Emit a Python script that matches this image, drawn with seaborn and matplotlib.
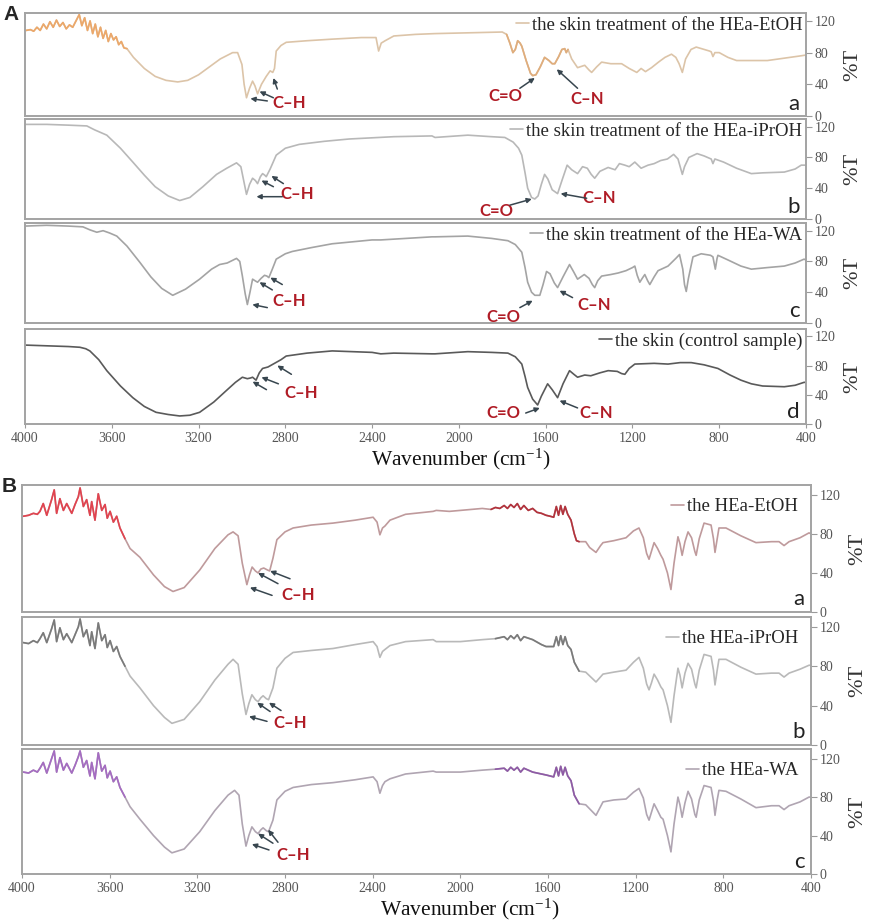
import matplotlib
matplotlib.use("Agg")
import pandas as pd
import matplotlib.pyplot as plt
import seaborn as sns
from matplotlib.lines import Line2D

# spectra: (wavenumber cm-1, %T)
A_ETOH = [(3995, 108), (3975, 109), (3960, 107), (3945, 112), (3930, 108), (3915, 116), (3900, 110),
          (3885, 119), (3870, 112), (3855, 121), (3840, 113), (3825, 118), (3810, 110), (3795, 115),
          (3780, 112), (3765, 120), (3750, 128), (3738, 114), (3725, 124), (3712, 108), (3700, 120),
          (3688, 104), (3676, 116), (3664, 100), (3652, 112), (3640, 98), (3628, 108), (3616, 94),
          (3604, 104), (3592, 96), (3580, 100), (3568, 90), (3556, 94), (3544, 86), (3530, 85),
          (3500, 74), (3450, 60), (3400, 50), (3350, 45), (3296, 43), (3250, 45), (3200, 52),
          (3150, 62), (3100, 72), (3043, 80), (3020, 80), (3000, 65), (2990, 40), (2979, 23),
          (2965, 35), (2951, 44), (2940, 38), (2928, 28), (2910, 40), (2888, 50), (2870, 57),
          (2858, 55), (2850, 60), (2842, 82), (2820, 89), (2796, 93), (2700, 95), (2584, 97),
          (2450, 99), (2382, 99), (2370, 82), (2358, 92), (2340, 95), (2300, 101), (2200, 103),
          (2110, 104), (1950, 105), (1800, 106), (1780, 103), (1765, 92), (1751, 80), (1740, 84),
          (1729, 95), (1718, 92), (1710, 88), (1690, 70), (1670, 54), (1660, 51), (1645, 52),
          (1625, 62), (1605, 74), (1585, 70), (1570, 66), (1558, 66), (1540, 75), (1525, 84),
          (1512, 85), (1505, 80), (1497, 84), (1480, 72), (1453, 61), (1420, 64), (1400, 58),
          (1388, 55), (1365, 62), (1342, 68), (1300, 66), (1250, 66), (1215, 60), (1180, 55),
          (1160, 60), (1140, 56), (1112, 61), (1080, 68), (1050, 74), (1020, 78), (1000, 74),
          (985, 66), (970, 55), (955, 72), (930, 84), (906, 87), (870, 84), (845, 82), (837, 81),
          (829, 75), (820, 80), (800, 80), (760, 74), (720, 70), (685, 70), (620, 70), (578, 70),
          (500, 73), (422, 76), (400, 77)]

A_IPROH = [(4000, 123), (3900, 123), (3800, 122), (3715, 121), (3680, 116), (3623, 109), (3560, 92),
           (3503, 74), (3450, 57), (3400, 42), (3340, 30), (3287, 24), (3240, 28), (3180, 42),
           (3117, 58), (3070, 66), (3025, 73), (3005, 68), (2992, 50), (2979, 32), (2965, 45),
           (2951, 53), (2938, 50), (2928, 46), (2915, 55), (2905, 59), (2895, 57), (2888, 55),
           (2870, 65), (2842, 83), (2800, 92), (2736, 97), (2620, 101), (2506, 104), (2300, 107),
           (2124, 108), (2110, 106), (1959, 109), (1850, 107), (1788, 106), (1750, 100), (1725, 92),
           (1710, 83), (1695, 60), (1683, 40), (1665, 28), (1650, 26), (1635, 30), (1620, 45),
           (1605, 58), (1590, 52), (1570, 38), (1545, 33), (1525, 50), (1501, 70), (1480, 64),
           (1453, 59), (1430, 68), (1408, 66), (1390, 58), (1374, 53), (1350, 62), (1312, 67),
           (1280, 64), (1260, 72), (1235, 70), (1215, 68), (1189, 74), (1160, 66), (1128, 70),
           (1100, 72), (1070, 76), (1039, 78), (1010, 84), (990, 78), (978, 66), (970, 58),
           (960, 68), (940, 80), (902, 85), (870, 82), (837, 78), (829, 72), (820, 78), (780, 74),
           (720, 66), (652, 59), (600, 60), (500, 61), (450, 65), (422, 70), (400, 70)]

A_WA = [(4000, 126), (3900, 127), (3800, 126), (3733, 125), (3700, 121), (3669, 118), (3640, 120),
        (3610, 117), (3577, 113), (3530, 100), (3471, 79), (3420, 60), (3370, 45), (3319, 36),
        (3260, 44), (3195, 57), (3140, 70), (3103, 76), (3068, 78), (3025, 84), (3010, 80),
        (2998, 61), (2985, 38), (2975, 24), (2963, 40), (2951, 57), (2940, 55), (2928, 53),
        (2912, 58), (2896, 62), (2885, 61), (2876, 59), (2860, 70), (2842, 83), (2800, 90),
        (2768, 93), (2680, 98), (2584, 103), (2400, 108), (2360, 108), (2124, 112), (2110, 112),
        (1959, 113), (1850, 110), (1774, 107), (1740, 102), (1710, 92), (1695, 72), (1683, 53),
        (1665, 40), (1650, 36), (1627, 36), (1612, 50), (1596, 67), (1580, 64), (1560, 52),
        (1545, 46), (1520, 60), (1490, 76), (1470, 66), (1453, 57), (1422, 63), (1400, 58),
        (1385, 50), (1374, 46), (1360, 55), (1342, 61), (1300, 63), (1266, 65), (1230, 68),
        (1200, 72), (1189, 74), (1178, 62), (1166, 53), (1155, 58), (1143, 63), (1130, 55),
        (1120, 50), (1100, 60), (1082, 68), (1036, 74), (1000, 84), (983, 89), (968, 70),
        (960, 50), (952, 41), (942, 58), (921, 86), (883, 90), (840, 88), (829, 86), (818, 70),
        (810, 84), (806, 88), (760, 82), (700, 74), (652, 70), (580, 72), (500, 74), (450, 78),
        (409, 83), (400, 82)]

A_SKIN = [(4000, 108), (3900, 107), (3800, 106), (3747, 105), (3720, 103), (3701, 100), (3660, 88),
          (3623, 73), (3560, 52), (3503, 36), (3450, 24), (3396, 16), (3340, 13), (3287, 11),
          (3240, 12), (3195, 16), (3130, 30), (3071, 46), (3030, 57), (2998, 64), (2975, 62),
          (2960, 63), (2951, 64), (2935, 60), (2920, 70), (2905, 76), (2880, 78), (2850, 83),
          (2820, 88), (2796, 93), (2700, 97), (2584, 100), (2400, 98), (2360, 96), (2300, 97),
          (2124, 96), (2110, 96), (1959, 99), (1850, 98), (1774, 97), (1740, 92), (1710, 82),
          (1695, 65), (1683, 50), (1660, 34), (1637, 26), (1620, 38), (1591, 55), (1570, 47),
          (1545, 36), (1520, 55), (1490, 73), (1470, 68), (1453, 64), (1420, 67), (1392, 66),
          (1350, 70), (1312, 73), (1270, 72), (1250, 69), (1235, 68), (1215, 76), (1189, 82),
          (1100, 83), (1036, 82), (980, 84), (929, 84), (870, 81), (806, 76), (750, 67),
          (700, 60), (652, 55), (600, 52), (500, 51), (450, 53), (409, 57), (400, 57)]

B_ETOH = [(3994, 98), (3970, 99), (3948, 101), (3930, 100), (3918, 103), (3903, 111), (3887, 99),
          (3865, 115), (3853, 125), (3842, 101), (3827, 116), (3811, 104), (3796, 111), (3773, 101),
          (3758, 110), (3743, 118), (3735, 127), (3720, 108), (3705, 115), (3690, 99), (3682, 113),
          (3667, 94), (3652, 121), (3636, 104), (3621, 110), (3611, 96), (3598, 103), (3583, 92),
          (3568, 98), (3553, 86), (3530, 75), (3507, 65), (3462, 56), (3400, 38), (3350, 26),
          (3311, 21), (3260, 25), (3189, 43), (3120, 65), (3060, 79), (3037, 82), (3014, 78),
          (2995, 50), (2974, 28), (2962, 38), (2950, 46), (2935, 42), (2923, 40), (2910, 44),
          (2897, 45), (2880, 43), (2870, 42), (2855, 55), (2837, 74), (2800, 82), (2763, 86),
          (2680, 89), (2581, 91), (2480, 94), (2398, 97), (2380, 92), (2367, 79), (2355, 86),
          (2344, 88), (2321, 94), (2250, 100), (2124, 103), (2110, 104), (2050, 103), (2000, 104),
          (1950, 105), (1900, 106), (1860, 105), (1840, 107), (1820, 106), (1800, 109), (1785, 106),
          (1770, 110), (1755, 107), (1740, 111), (1725, 105), (1710, 109), (1690, 104), (1670, 106),
          (1650, 102), (1630, 101), (1609, 99), (1590, 98), (1574, 97), (1562, 108), (1552, 99),
          (1542, 109), (1532, 100), (1522, 108), (1510, 100), (1495, 94), (1480, 80), (1470, 73),
          (1458, 72), (1428, 72), (1410, 66), (1381, 61), (1360, 68), (1349, 71), (1300, 73),
          (1244, 76), (1210, 83), (1185, 86), (1165, 76), (1150, 60), (1139, 54), (1128, 62),
          (1116, 71), (1100, 65), (1085, 58), (1075, 54), (1055, 40), (1039, 23), (1025, 50),
          (1007, 77), (998, 70), (988, 58), (975, 72), (961, 82), (945, 76), (930, 62), (924, 58),
          (910, 75), (888, 91), (856, 89), (845, 75), (838, 61), (828, 75), (820, 86), (788, 86),
          (720, 78), (651, 71), (580, 72), (546, 72), (523, 68), (500, 72), (450, 76), (409, 81),
          (400, 80)]

B_IPROH = [(3994, 104), (3970, 103), (3948, 106), (3930, 104), (3918, 108), (3903, 114), (3887, 104),
           (3865, 118), (3853, 127), (3842, 105), (3827, 119), (3811, 107), (3796, 113), (3773, 104),
           (3758, 112), (3743, 120), (3735, 128), (3720, 110), (3705, 117), (3690, 101), (3682, 115),
           (3667, 98), (3652, 124), (3636, 106), (3621, 112), (3611, 99), (3598, 106), (3583, 95),
           (3568, 100), (3553, 90), (3530, 80), (3507, 70), (3462, 58), (3400, 40), (3350, 28),
           (3316, 22), (3260, 26), (3189, 44), (3120, 66), (3060, 82), (3037, 87), (3014, 82),
           (2995, 52), (2978, 31), (2965, 42), (2951, 51), (2935, 46), (2923, 44), (2910, 48),
           (2900, 50), (2885, 47), (2875, 46), (2855, 58), (2837, 78), (2800, 88), (2763, 94),
           (2680, 96), (2581, 98), (2480, 102), (2398, 105), (2380, 100), (2367, 89), (2355, 95),
           (2344, 97), (2321, 101), (2250, 105), (2124, 107), (2110, 105), (2000, 105), (1900, 107),
           (1840, 108), (1800, 110), (1785, 107), (1770, 111), (1755, 108), (1740, 112), (1725, 106),
           (1710, 110), (1670, 107), (1630, 102), (1609, 100), (1574, 100), (1562, 110), (1552, 101),
           (1542, 111), (1532, 102), (1522, 110), (1510, 101), (1495, 97), (1480, 84), (1458, 75),
           (1428, 74), (1381, 64), (1349, 72), (1300, 74), (1244, 76), (1210, 84), (1185, 89),
           (1165, 78), (1150, 62), (1139, 56), (1128, 63), (1116, 72), (1100, 66), (1085, 59),
           (1075, 56), (1055, 40), (1039, 23), (1025, 50), (1007, 78), (998, 71), (988, 58),
           (975, 73), (961, 83), (945, 77), (930, 62), (924, 58), (910, 76), (888, 92), (856, 90),
           (845, 76), (838, 61), (828, 76), (820, 87), (788, 87), (720, 79), (651, 72), (580, 73),
           (546, 73), (523, 69), (500, 73), (450, 77), (409, 81), (400, 81)]

B_WA = [(3994, 106), (3970, 105), (3948, 108), (3930, 106), (3918, 110), (3903, 116), (3887, 105),
        (3865, 120), (3853, 128), (3842, 106), (3827, 121), (3811, 108), (3796, 115), (3773, 105),
        (3758, 113), (3743, 122), (3735, 128), (3720, 111), (3705, 118), (3690, 102), (3682, 116),
        (3667, 99), (3652, 126), (3636, 107), (3621, 113), (3611, 100), (3598, 107), (3583, 96),
        (3568, 101), (3553, 90), (3530, 80), (3507, 70), (3462, 57), (3400, 40), (3350, 28),
        (3316, 22), (3260, 26), (3189, 44), (3120, 66), (3060, 82), (3030, 87), (3010, 82),
        (2995, 52), (2978, 29), (2965, 40), (2951, 49), (2935, 44), (2923, 42), (2910, 46),
        (2900, 48), (2885, 45), (2875, 44), (2855, 56), (2837, 77), (2800, 86), (2763, 90),
        (2680, 93), (2581, 95), (2480, 98), (2398, 101), (2380, 96), (2367, 84), (2355, 92),
        (2344, 96), (2321, 99), (2250, 104), (2124, 107), (2110, 106), (2000, 106), (1900, 108),
        (1840, 109), (1800, 110), (1785, 107), (1770, 111), (1755, 108), (1740, 111), (1725, 106),
        (1710, 110), (1670, 106), (1630, 104), (1609, 103), (1574, 101), (1562, 111), (1552, 102),
        (1542, 112), (1532, 103), (1522, 111), (1510, 102), (1495, 97), (1480, 82), (1458, 73),
        (1428, 72), (1381, 61), (1349, 75), (1300, 77), (1244, 78), (1210, 85), (1185, 89),
        (1165, 79), (1150, 62), (1139, 56), (1128, 64), (1116, 73), (1100, 66), (1085, 59),
        (1075, 57), (1055, 40), (1039, 23), (1025, 52), (1007, 80), (998, 72), (988, 59),
        (975, 74), (961, 86), (945, 78), (930, 62), (924, 59), (910, 77), (888, 92), (856, 90),
        (845, 76), (838, 61), (828, 77), (820, 87), (788, 86), (720, 78), (651, 69), (580, 71),
        (546, 71), (523, 67), (500, 71), (450, 75), (409, 80), (400, 80)]

LEGEND_A = ["the skin treatment of the HEa-EtOH", "the skin treatment of the HEa-iPrOH",
            "the skin treatment of the HEa-WA", "the skin (control sample)"]
LEGEND_B = ["the HEa-EtOH", "the HEa-iPrOH", "the HEa-WA"]
X_TICKS = [4000, 3600, 3200, 2800, 2400, 2000, 1600, 1200, 800, 400]
Y_TICKS = [0, 40, 80, 120]

SERIF = 'Liberation Serif'
RED = '#b01c26'
ARROW = '#38464f'

sns.set_theme(style="white")
plt.rcParams['font.family'] = ['Liberation Serif', 'DejaVu Sans']
plt.rcParams['mathtext.default'] = 'regular'

W, H = 872, 923
fig = plt.figure(figsize=(W / 100, H / 100), dpi=100)


def rect(left, right, top, bottom):
    return [left / W, 1 - bottom / H, (right - left) / W, (bottom - top) / H]


# C-H / C=O / C-N labels with their arrows: (text, text pos, [(tail, head), ...])
CH_A1 = ('C–H', (2782, 16), [((2883, 19), (2961, 22)), ((2855, 23), (2919, 31)), ((2837, 34), (2855, 48))])
CH_A2 = ('C–H', (2745, 33), [((2814, 29), (2933, 29)), ((2855, 42), (2910, 50)), ((2809, 46), (2864, 56))])
CH_A3 = ('C–H', (2782, 28), [((2883, 20), (2952, 24)), ((2860, 43), (2919, 53)), ((2814, 50), (2869, 59))])
CH_A4 = ('C–H', (2727, 42), [((2887, 47), (2951, 58)), ((2832, 55), (2910, 64)), ((2772, 68), (2837, 80))])
CH_B1 = ('C–H', (2741, 17), [((2859, 17), (2960, 25)), ((2832, 29), (2923, 40)), ((2777, 34), (2868, 42))])
CH_B2 = ('C–H', (2777, 22), [((2882, 24), (2964, 29)), ((2868, 34), (2927, 43)), ((2818, 35), (2873, 43))])
CH_B3 = ('C–H', (2763, 20), [((2873, 25), (2951, 31)), ((2855, 32), (2923, 42)), ((2832, 33), (2877, 46))])

panels = [
    dict(data=A_ETOH, box=rect(25, 806, 13, 116), color='#dcc4a8',
         accents=[(3520, 4000, '#eca86a'), (1495, 1780, '#e0ad7c')], legend=LEGEND_A[0], letter='a',
         notes=[CH_A1, ('C=O', (1788, 25), [((1719, 35), (1650, 48))]),
                ('C–N', (1407, 21), [((1453, 35), (1549, 59))])], bottom=False, lpad=0.1),
    dict(data=A_IPROH, box=rect(25, 806, 119, 219), color='#b8b8b8', accents=[],
         legend=LEGEND_A[1], letter='b',
         notes=[CH_A2, ('C=O', (1825, 10), [((1765, 18), (1664, 26))]),
                ('C–N', (1352, 27), [((1411, 27), (1531, 33))])], bottom=False, lpad=0.1),
    dict(data=A_WA, box=rect(25, 806, 223, 323), color='#a4a4a4', accents=[],
         legend=LEGEND_A[2], letter='c',
         notes=[CH_A3, ('C=O', (1797, 8), [((1719, 20), (1660, 29))]),
                ('C–N', (1375, 24), [((1476, 33), (1536, 42))])], bottom=False, lpad=0.1),
    dict(data=A_SKIN, box=rect(25, 806, 329, 424), color='#5a5a5a', accents=[],
         legend=LEGEND_A[3], letter='d',
         notes=[CH_A4, ('C=O', (1797, 15), [((1692, 15), (1627, 22))]),
                ('C–N', (1365, 15), [((1453, 22), (1536, 32))])], bottom=True, lpad=0.1),
    dict(data=B_ETOH, box=rect(22, 811, 485, 612), color='#bf9a9c',
         accents=[(3520, 4000, '#e2434f'), (1458, 1860, '#b3323c')], legend=LEGEND_B[0], letter='a',
         notes=[CH_B1], bottom=False, lpad=0.6),
    dict(data=B_IPROH, box=rect(22, 811, 617, 745), color='#b9b9b9',
         accents=[(3520, 4000, '#7a7a7a'), (1458, 1860, '#7a7a7a')], legend=LEGEND_B[1], letter='b',
         notes=[CH_B2], bottom=False, lpad=0.6),
    dict(data=B_WA, box=rect(22, 811, 749, 874), color='#b0a5b2',
         accents=[(3520, 4000, '#a56cc2'), (1458, 1860, '#8e5aa6')], legend=LEGEND_B[2], letter='c',
         notes=[CH_B3], bottom=True, lpad=0.6),
]

for p in panels:
    ax = fig.add_axes(p['box'])
    df = pd.DataFrame(p['data'], columns=['wn', 'T'])
    sns.lineplot(data=df, x='wn', y='T', ax=ax, color=p['color'], lw=1.2,
                 sort=False, estimator=None)
    for lo, hi, c in p['accents']:
        part = df[(df.wn >= lo) & (df.wn <= hi)]
        sns.lineplot(data=part, x='wn', y='T', ax=ax, color=c, lw=1.2,
                     sort=False, estimator=None)

    ax.set_xlim(4000, 400)
    ax.set_ylim(0, 130)
    ax.set_yticks(Y_TICKS)
    ax.set_xticks(X_TICKS)
    ax.yaxis.tick_right()
    ax.yaxis.set_label_position('right')
    ax.set_ylabel('%T', fontsize=16, rotation=90, labelpad=6, color='#333333')
    ax.tick_params(axis='y', direction='out', length=4, width=0.8, color='#9a9a9a',
                   labelsize=10, labelcolor='#555555', pad=2, right=True)
    if p['bottom']:
        ax.tick_params(axis='x', direction='out', length=3, width=0.8, color='#9a9a9a',
                       labelsize=10, labelcolor='#555555', pad=3, bottom=True)
    else:
        ax.tick_params(axis='x', bottom=False, labelbottom=False)
    ax.set_xlabel('')
    for s in ax.spines.values():
        s.set_color('#a3a3a3')
        s.set_linewidth(1.4)

    handle = Line2D([], [], color=p['color'], lw=1.2)
    ax.legend([handle], [p['legend']], loc='upper right', frameon=False,
              handlelength=0.7, handletextpad=0.15, borderaxespad=p['lpad'], borderpad=0.1,
              prop={'family': SERIF, 'size': 13.5})

    ax.text(0.992, 0.02, p['letter'], transform=ax.transAxes, ha='right', va='bottom',
            fontsize=16, family='Lato', color='#222222')

    for label, (tx, ty), arrows in p['notes']:
        ax.text(tx, ty, label, ha='center', va='center', fontsize=12, fontweight='bold',
                family='Lato', color=RED)
        for tail, head in arrows:
            ax.annotate('', xy=head, xytext=tail,
                        arrowprops=dict(arrowstyle='-|>', color=ARROW, lw=1.1,
                                        mutation_scale=7, shrinkA=0, shrinkB=0))

fig.text(461 / W, 1 - 459 / H, 'Wavenumber (cm$^{-1}$)', ha='center', va='center',
         fontsize=15.5, family=SERIF, color='#111111')
fig.text(470 / W, 1 - 909 / H, 'Wavenumber (cm$^{-1}$)', ha='center', va='center',
         fontsize=15.5, family=SERIF, color='#111111')
fig.text(3 / W, 1 - 15 / H, 'A', ha='left', va='center', fontsize=15, fontweight='bold',
         family='Liberation Sans')
fig.text(2 / W, 1 - 486 / H, 'B', ha='left', va='center', fontsize=15, fontweight='bold',
         family='Liberation Sans')

fig.savefig('out.png', dpi=100)
